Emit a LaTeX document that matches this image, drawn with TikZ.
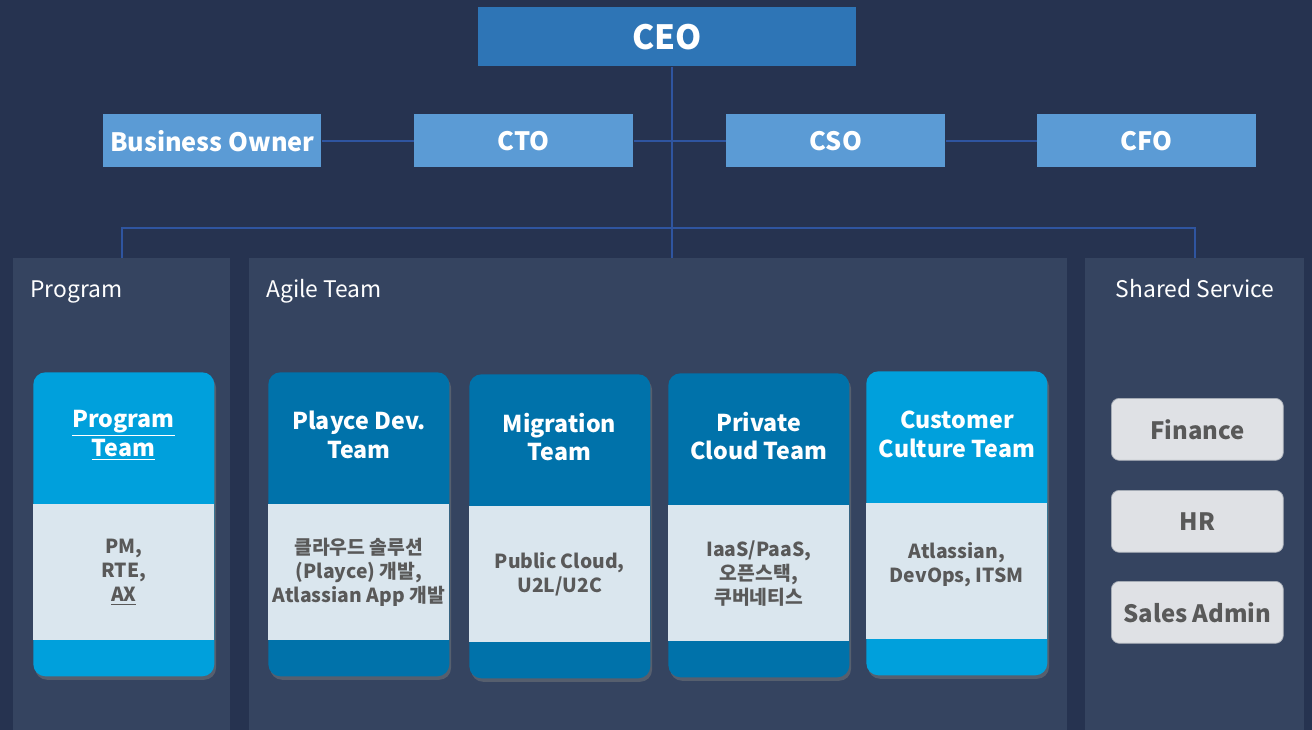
\documentclass[tikz,border=0pt]{standalone}
\usepackage{fontspec}
\setmainfont{Noto Sans CJK KR}
\usetikzlibrary{shadows}

\definecolor{bgnavy}{RGB}{38,51,80}
\definecolor{panelnavy}{RGB}{53,68,96}
\definecolor{ceoblue}{RGB}{46,117,182}
\definecolor{cxoblue}{RGB}{91,155,213}
\definecolor{linkblue}{RGB}{47,85,160}
\definecolor{lightcyan}{RGB}{0,160,220}
\definecolor{deepcyan}{RGB}{0,114,170}
\definecolor{bodyfill}{RGB}{218,230,238}
\definecolor{svcfill}{RGB}{223,225,229}
\definecolor{svcline}{RGB}{166,172,181}
\definecolor{txtgray}{RGB}{89,89,89}

\tikzset{
  chief/.style={fill=ceoblue, text=white, anchor=north west, inner sep=0pt,
    minimum width=7.56cm, minimum height=1.18cm,
    font=\bfseries\fontsize{19}{22}\selectfont},
  exec/.style={fill=cxoblue, text=white, anchor=north west, inner sep=0pt,
    minimum width=4.38cm, minimum height=1.06cm,
    font=\bfseries\fontsize{14.4}{17}\selectfont},
  link/.style={draw=linkblue, line width=1.4pt},
  panel/.style={fill=panelnavy, anchor=north west, inner sep=0pt,
    minimum height=9.44cm},
  panellabel/.style={text=white, inner sep=0pt,
    font=\fontsize{13}{16}\selectfont},
  card/.style={fill=#1, anchor=north west, inner sep=0pt,
    minimum width=3.62cm, minimum height=6.08cm, rounded corners=0.24cm,
    drop shadow={shadow xshift=1pt, shadow yshift=-2pt, opacity=0.45}},
  cardbody/.style={fill=bodyfill, text=txtgray, anchor=north west, inner sep=0pt,
    minimum width=3.62cm, minimum height=2.72cm, align=center,
    font=\bfseries\fontsize{11}{13.6}\selectfont},
  cardtitle/.style={text=white, inner sep=0pt, align=center,
    font=\bfseries\fontsize{13.2}{16.4}\selectfont},
  svc/.style={fill=svcfill, draw=svcline, line width=0.4pt, text=txtgray,
    anchor=north west, inner sep=0pt, rounded corners=0.16cm,
    minimum width=3.44cm, minimum height=1.24cm,
    font=\bfseries\fontsize{13.6}{17}\selectfont}
}

\begin{document}
\begin{tikzpicture}[x=0.02cm, y=-0.02cm]
  \fill[bgnavy] (0,0) rectangle (1312,730);
  \useasboundingbox (0,0) rectangle (1312,730);

  % executives
  \node[chief] (ceo) at (478,7) {CEO};
  \node[exec, minimum width=4.36cm] (bo) at (103,114) {Business Owner};
  \node[exec] (cto) at (414,114) {CTO};
  \node[exec] (cso) at (726,114) {CSO};
  \node[exec] (cfo) at (1037,114) {CFO};

  % groups
  \node[panel, minimum width=4.34cm] (prog) at (13,258) {};
  \node[panel, minimum width=16.36cm] (agile) at (249,258) {};
  \node[panel, minimum width=4.38cm] (shared) at (1085,258) {};
  \node[panellabel, anchor=base west] (proglbl) at (30,297) {Program};
  \node[panellabel, anchor=base west] (agilelbl) at (266,297) {Agile Team};
  \node[panellabel, anchor=base] (sharedlbl) at (1195,297) {Shared Service};

  % connectors
  \coordinate (hub) at (672,228);
  \draw[link] (hub |- ceo.south) -- (hub |- agile.north);
  \draw[link] (bo) -- (cto);
  \draw[link] (cto) -- (cso);
  \draw[link] (cso) -- (cfo);
  \draw[link] (prog.north) |- (hub) -| (shared.north);

  % team cards
  \node[card=lightcyan] (progcard) at (33,372) {};
  \node[cardbody] (progbody) at (33,504) {PM,\\RTE,\\\underline{AX}};
  \node[cardtitle] (progtitle) at (123.5,435) {\underline{Program}\\\underline{Team}};

  \node[card=deepcyan] (playcard) at (268,372) {};
  \node[cardbody] (playbody) at (268,504) {클라우드 솔루션\\(Playce) 개발,\\Atlassian App 개발};
  \node[cardtitle] (playtitle) at (359,435) {Playce Dev.\\Team};

  \node[card=deepcyan] (migcard) at (469,374) {};
  \node[cardbody] (migbody) at (469,506) {Public Cloud,\\U2L/U2C};
  \node[cardtitle] (migtitle) at (559.5,437) {Migration\\Team};

  \node[card=deepcyan] (privcard) at (668,373) {};
  \node[cardbody] (privbody) at (668,505) {IaaS/PaaS,\\오픈스택,\\쿠버네티스};
  \node[cardtitle] (privtitle) at (758.5,436) {Private\\Cloud Team};

  \node[card=lightcyan] (custcard) at (866,371) {};
  \node[cardbody] (custbody) at (866,503) {Atlassian,\\DevOps, ITSM\\[-4pt]};
  \node[cardtitle] (custtitle) at (957,434) {Customer\\Culture Team};

  % shared services
  \node[svc] (finance) at (1111,398) {Finance};
  \node[svc] (hr) at (1111,490) {HR};
  \node[svc] (sales) at (1111,581) {Sales Admin};
\end{tikzpicture}
\end{document}
